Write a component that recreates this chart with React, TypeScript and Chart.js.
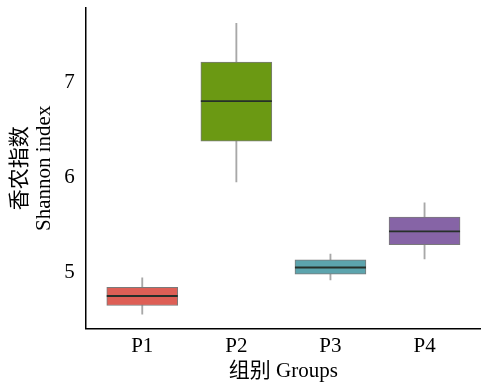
import React, { useEffect, useRef } from "react";
import { Chart, registerables } from "chart.js";

Chart.register(...registerables);

const categories = ["P1", "P2", "P3", "P4"];
const whiskerLow = [4.56, 5.95, 4.92, 5.14];
const q1 = [4.65, 6.38, 4.98, 5.29];
const median = [4.75, 6.8, 5.05, 5.43];
const q3 = [4.84, 7.21, 5.13, 5.58];
const whiskerHigh = [4.94, 7.62, 5.19, 5.73];
const yTicks = [5, 6, 7];
const boxColors = ["#de5f56", "#6b9913", "#5ca4ad", "#8664a6"];

const FONT = "'Liberation Serif', 'Noto Sans CJK SC', serif";

const medianPlugin = {
  id: "medianLines",
  afterDatasetsDraw(chart: any) {
    const { ctx, scales } = chart;
    const meta = chart.getDatasetMeta(1);
    ctx.save();
    ctx.strokeStyle = "#26302a";
    ctx.lineWidth = 1.8;
    meta.data.forEach((bar: any, i: number) => {
      const y = scales.y.getPixelForValue(median[i]);
      const half = bar.width / 2;
      ctx.beginPath();
      ctx.moveTo(bar.x - half, y);
      ctx.lineTo(bar.x + half, y);
      ctx.stroke();
    });
    ctx.restore();
  },
};

export default function App() {
  const ref = useRef<HTMLCanvasElement | null>(null);
  useEffect(() => {
    if (!ref.current) return;
    const chart = new Chart(ref.current, {
      type: "bar",
      data: {
        datasets: [
          {
            label: "whiskers",
            data: categories.map((_, i) => ({ x: i + 1, y: [whiskerLow[i], whiskerHigh[i]] })) as any,
            backgroundColor: "#a8a8a8",
            borderWidth: 0,
            barThickness: 1.2,
            grouped: false,
            order: 2,
          },
          {
            label: "boxes",
            data: categories.map((_, i) => ({ x: i + 1, y: [q1[i], q3[i]] })) as any,
            backgroundColor: boxColors,
            borderColor: "#7a7a7a",
            borderWidth: 1,
            borderSkipped: false,
            barThickness: 71,
            grouped: false,
            order: 1,
          },
        ],
      },
      options: {
        animation: false,
        responsive: false,
        maintainAspectRatio: false,
        layout: { padding: { top: 8, right: 0, left: 3, bottom: -3 } },
        plugins: { legend: { display: false }, tooltip: { enabled: false } },
        scales: {
          x: {
            type: "linear",
            min: 0.4,
            max: 4.6,
            offset: false,
            grid: { display: false, drawTicks: true, tickLength: 5, tickColor: "#000" } as any,
            border: { display: true, color: "#000", width: 1.5 },
            afterBuildTicks: (s: any) => {
              s.ticks = categories.map((_, i) => ({ value: i + 1 }));
            },
            afterFit: (s: any) => {
              s.paddingLeft = 0;
              s.paddingRight = 0;
            },
            ticks: {
              color: "#000",
              font: { family: FONT, size: 21 },
              padding: 0,
              maxRotation: 0,
              autoSkip: false,
              callback: (v: any) => categories[Number(v) - 1] ?? "",
            },
            title: {
              display: true,
              text: "组别 Groups",
              color: "#000",
              font: { family: FONT, size: 21 },
              padding: { top: 0, bottom: 2 },
            },
          },
          y: {
            type: "linear",
            min: 4.407,
            max: 7.78,
            grid: { display: false, drawTicks: true, tickLength: 5, tickColor: "#000" } as any,
            border: { display: true, color: "#000", width: 1.5 },
            afterBuildTicks: (s: any) => {
              s.ticks = yTicks.map((v) => ({ value: v }));
            },
            afterFit: (s: any) => {
              s.paddingTop = 0;
              s.paddingBottom = 0;
            },
            ticks: {
              color: "#000",
              font: { family: FONT, size: 21 },
              padding: 6,
              callback: (v: any) => String(v),
            },
            title: {
              display: true,
              text: ["香农指数", "Shannon index"],
              color: "#000",
              font: { family: FONT, size: 21, lineHeight: 1.15 },
              padding: { top: 5, bottom: 2 },
            },
          },
        },
      },
      plugins: [medianPlugin],
    });
    return () => chart.destroy();
  }, []);
  return (
    <div style={{ position: "absolute", left: 0, top: 0, width: 481, height: 383, background: "#fff" }}>
      <canvas ref={ref} width={481} height={383} style={{ width: 481, height: 383 }} />
    </div>
  );
}
